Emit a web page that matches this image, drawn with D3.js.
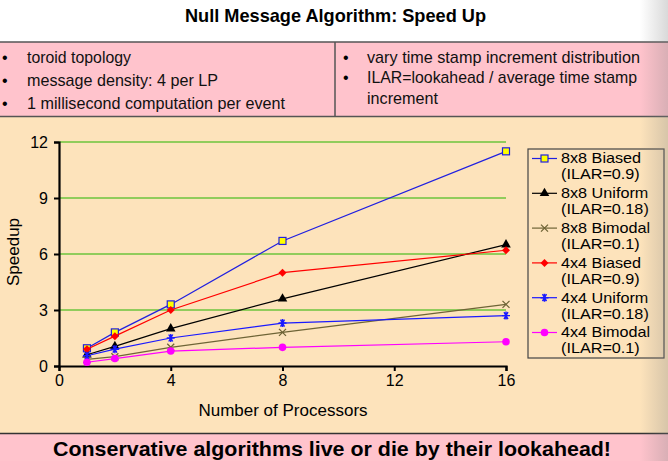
<!DOCTYPE html>
<html>
<head>
<meta charset="utf-8">
<script src="https://cdn.jsdelivr.net/npm/d3@7"></script>
<style>
  body { margin: 0; background: #ffffff; }
  svg { display: block; }
  text { font-family: "Liberation Sans", Arial, sans-serif; }
</style>
</head>
<body>
<div id="chart"></div>
<script>
// Chart data
let processors = [1, 2, 4, 8, 16];
let seriesNames = ["8x8 Biased", "8x8 Uniform", "8x8 Bimodal", "4x4 Biased", "4x4 Uniform", "4x4 Bimodal"];
let seriesIlar = ["(ILAR=0.9)", "(ILAR=0.18)", "(ILAR=0.1)", "(ILAR=0.9)", "(ILAR=0.18)", "(ILAR=0.1)"];
let biased8 = [0.95, 1.8, 3.3, 6.7, 11.5];
let uniform8 = [0.6, 1.05, 2.0, 3.6, 6.5];
let bimodal8 = [0.35, 0.5, 1.0, 1.8, 3.3];
let biased4 = [0.9, 1.6, 3.0, 5.0, 6.2];
let uniform4 = [0.55, 0.9, 1.5, 2.3, 2.7];
let bimodal4 = [0.2, 0.4, 0.8, 1.0, 1.3];
let xTicks = [0, 4, 8, 12, 16];
let yTicks = [0, 3, 6, 9, 12];

let leftBullets = ["toroid topology", "message density: 4 per LP", "1 millisecond computation per event"];
let rightBullets = ["vary time stamp increment distribution", "ILAR=lookahead / average time stamp"];

// Styles per series
let allValues = [biased8, uniform8, bimodal8, biased4, uniform4, bimodal4];
let colors = ["#2020e0", "#000000", "#6e6436", "#ff0000", "#1a1aff", "#ff00ff"];
let symbols = ["square", "triangle", "cross", "diamond", "star", "circle"];

let svgWidth = 668;
let svgHeight = 461;

let svg = d3.select("#chart")
    .append("svg")
    .attr("width", svgWidth)
    .attr("height", svgHeight);

// Backgrounds
svg.append("rect").attr("x", 0).attr("y", 0).attr("width", svgWidth).attr("height", svgHeight).attr("fill", "#ffffff");
svg.append("rect").attr("x", 0).attr("y", 116).attr("width", svgWidth).attr("height", 318).attr("fill", "#fde3bb");
svg.append("rect").attr("x", 0).attr("y", 433).attr("width", svgWidth).attr("height", 28).attr("fill", "#ffc3cc");
svg.append("line").attr("x1", 0).attr("x2", svgWidth).attr("y1", 433.5).attr("y2", 433.5)
    .attr("stroke", "#333").attr("stroke-width", 1.5);

// Bullet box
svg.append("rect").attr("x", -2).attr("y", 42).attr("width", svgWidth + 4).attr("height", 74.5)
    .attr("fill", "#ffc3cc").attr("stroke", "#555").attr("stroke-width", 1.5);
svg.append("line").attr("x1", 335).attr("x2", 335).attr("y1", 42).attr("y2", 116.5)
    .attr("stroke", "#555").attr("stroke-width", 1.5);

// Title
svg.append("text")
    .attr("x", 185).attr("y", 22)
    .attr("textLength", 301).attr("lengthAdjust", "spacingAndGlyphs")
    .style("font-size", "19px").style("font-weight", "bold")
    .text("Null Message Algorithm: Speed Up");

// Bullets
let leftWidths = [104, 191, 258];
let leftY = [63, 86, 108.5];
leftBullets.forEach(function (t, i) {
    svg.append("text").attr("x", 2).attr("y", leftY[i]).style("font-size", "16px").text("•");
    svg.append("text").attr("x", 27).attr("y", leftY[i])
        .attr("textLength", leftWidths[i]).attr("lengthAdjust", "spacingAndGlyphs")
        .style("font-size", "17px").style("fill", "#111").text(t);
});
let rightWidths = [273, 270];
let rightY = [63, 83];
rightBullets.forEach(function (t, i) {
    svg.append("text").attr("x", 343).attr("y", rightY[i]).style("font-size", "16px").text("•");
    svg.append("text").attr("x", 367).attr("y", rightY[i])
        .attr("textLength", rightWidths[i]).attr("lengthAdjust", "spacingAndGlyphs")
        .style("font-size", "17px").style("fill", "#111").text(t);
});
svg.append("text").attr("x", 367).attr("y", 103.5)
    .attr("textLength", 71).attr("lengthAdjust", "spacingAndGlyphs")
    .style("font-size", "17px").style("fill", "#111").text("increment");

// Footer
svg.append("text")
    .attr("x", 53).attr("y", 456)
    .attr("textLength", 558).attr("lengthAdjust", "spacingAndGlyphs")
    .style("font-size", "21px").style("font-weight", "bold")
    .text("Conservative algorithms live or die by their lookahead!");

// Plot area
let margin = { top: 142, left: 59 };
let width = 447;
let height = 224;

let chartGroup = svg.append("g")
    .attr("transform", `translate(${margin.left}, ${margin.top})`);

let xScale = d3.scaleLinear().domain([0, 16]).range([0, width]);
let yScale = d3.scaleLinear().domain([0, 12]).range([height, 0]);

// Gridlines
chartGroup.selectAll(".grid")
    .data(yTicks.filter(d => d > 0))
    .enter()
    .append("line")
    .attr("x1", 0).attr("x2", width)
    .attr("y1", d => yScale(d)).attr("y2", d => yScale(d))
    .attr("stroke", "#6cc43c").attr("stroke-width", 1.3);

// Axes
let bottomAxis = d3.axisBottom(xScale).tickValues(xTicks).tickSize(5).tickSizeOuter(5).tickPadding(4);
let leftAxis = d3.axisLeft(yScale).tickValues(yTicks).tickSize(5).tickSizeOuter(5).tickPadding(6);

let xAxisG = chartGroup.append("g").attr("transform", `translate(0, ${height})`).call(bottomAxis);
let yAxisG = chartGroup.append("g").call(leftAxis);

[xAxisG, yAxisG].forEach(function (g) {
    g.select(".domain").attr("stroke", "#000").attr("stroke-width", 2.2);
    g.selectAll(".tick line").attr("stroke", "#000").attr("stroke-width", 2);
    g.selectAll(".tick text")
        .style("font-size", "16px")
        .style("font-family", "'Liberation Sans', Arial, sans-serif")
        .attr("fill", "#000");
});
yAxisG.selectAll(".tick text").attr("dy", "0.36em");

// Axis labels
chartGroup.append("text")
    .attr("transform", "rotate(-90)")
    .attr("x", -(height / 2) + 2)
    .attr("y", -40)
    .style("font-size", "17px")
    .style("text-anchor", "middle")
    .text("Speedup");

chartGroup.append("text")
    .attr("x", 224)
    .attr("y", 274)
    .style("font-size", "17px")
    .style("text-anchor", "middle")
    .text("Number of Processors");

// Marker drawing helper
function drawMarker(g, type, color, cx, cy) {
    if (type === "square") {
        g.append("rect").attr("x", cx - 3.5).attr("y", cy - 3.5).attr("width", 7).attr("height", 7)
            .attr("fill", "#ffff00").attr("stroke", color).attr("stroke-width", 1.2);
    } else if (type === "triangle") {
        g.append("path").attr("transform", `translate(${cx}, ${cy})`)
            .attr("d", d3.symbol().type(d3.symbolTriangle).size(40)())
            .attr("fill", color);
    } else if (type === "cross") {
        g.append("path").attr("transform", `translate(${cx}, ${cy})`)
            .attr("d", "M-3.5,-3.5L3.5,3.5M-3.5,3.5L3.5,-3.5")
            .attr("stroke", color).attr("stroke-width", 1.3).attr("fill", "none");
    } else if (type === "diamond") {
        g.append("path").attr("transform", `translate(${cx}, ${cy})`)
            .attr("d", "M0,-4L4,0L0,4L-4,0Z")
            .attr("fill", color);
    } else if (type === "star") {
        g.append("path").attr("transform", `translate(${cx}, ${cy})`)
            .attr("d", "M-4,0L4,0M-2,-3.5L2,3.5M-2,3.5L2,-3.5M0,-4L0,4")
            .attr("stroke", color).attr("stroke-width", 1.4).attr("fill", "none");
    } else if (type === "circle") {
        g.append("circle").attr("cx", cx).attr("cy", cy).attr("r", 3.8).attr("fill", color);
    }
}

let line = d3.line()
    .x((d, i) => xScale(processors[i]))
    .y(d => yScale(d));

// Series lines and markers
allValues.forEach(function (vals, s) {
    let sg = chartGroup.append("g");
    sg.append("path")
        .datum(vals)
        .attr("d", line)
        .attr("fill", "none")
        .attr("stroke", colors[s])
        .attr("stroke-width", 1.2);
    vals.forEach(function (v, i) {
        drawMarker(sg, symbols[s], colors[s], xScale(processors[i]), yScale(v));
    });
});

// Legend
let legend = svg.append("g");
legend.append("rect")
    .attr("x", 528).attr("y", 149).attr("width", 136).attr("height", 209)
    .attr("fill", "none").attr("stroke", "#444").attr("stroke-width", 1.2);

seriesNames.forEach(function (name, i) {
    let cy = 158.5 + i * 34.8;
    legend.append("line")
        .attr("x1", 532).attr("x2", 557).attr("y1", cy).attr("y2", cy)
        .attr("stroke", colors[i]).attr("stroke-width", 1.2);
    drawMarker(legend, symbols[i], colors[i], 544.5, cy);
    legend.append("text").attr("x", 561).attr("y", cy + 5)
        .attr("transform", `translate(${561 * -0.08}, 0) scale(1.08, 1)`)
        .style("font-size", "15px").text(name);
    legend.append("text").attr("x", 561).attr("y", cy + 21)
        .attr("transform", `translate(${561 * -0.08}, 0) scale(1.08, 1)`)
        .style("font-size", "15px").text(seriesIlar[i]);
});

// Slide shadow on the right edge
let defs = svg.append("defs");
let grad = defs.append("linearGradient").attr("id", "edgeShade").attr("x1", "0").attr("x2", "1");
grad.append("stop").attr("offset", "0").attr("stop-color", "#808080").attr("stop-opacity", 0);
grad.append("stop").attr("offset", "1").attr("stop-color", "#808080").attr("stop-opacity", 0.3);
svg.append("rect").attr("x", 640).attr("y", 0).attr("width", 28).attr("height", svgHeight)
    .attr("fill", "url(#edgeShade)");
</script>
</body>
</html>
